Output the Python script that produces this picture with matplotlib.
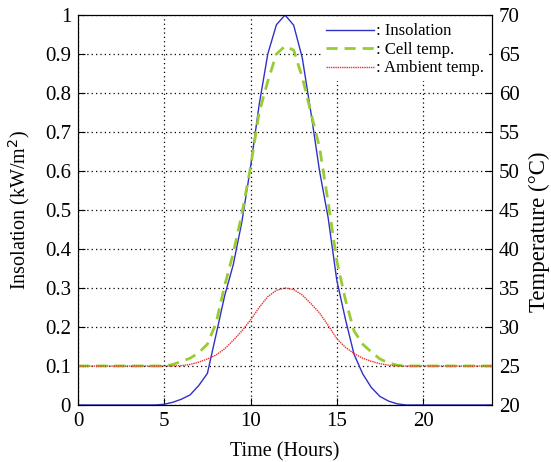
import matplotlib.pyplot as plt

plt.rcParams['font.family'] = ['Liberation Serif', 'DejaVu Serif']

hours = [0, 0.5, 1, 1.5, 2, 2.5, 3, 3.5, 4, 4.5, 5, 5.5, 6, 6.5, 7, 7.5, 8, 8.5,
         9, 9.5, 10, 10.5, 11, 11.5, 12, 12.5, 13, 13.5, 14, 14.5, 15, 15.5,
         16, 16.5, 17, 17.5, 18, 18.5, 19, 19.5, 20, 20.5, 21, 21.5, 22, 22.5,
         23, 23.5, 24]

# kW/m^2
insolation = [0, 0, 0, 0, 0, 0, 0, 0, 0, 0, 0.002, 0.007, 0.015, 0.026, 0.05,
              0.081, 0.18, 0.28, 0.36, 0.47, 0.61, 0.77, 0.9, 0.975, 1.0,
              0.974, 0.89, 0.75, 0.6, 0.48, 0.32, 0.22, 0.13, 0.08, 0.045,
              0.022, 0.01, 0.003, 0, 0, 0, 0, 0, 0, 0, 0, 0, 0, 0]

# deg C
cell_temp = [25, 25, 25, 25, 25, 25, 25, 25, 25, 25, 25, 25.2, 25.6, 26.0,
             26.7, 27.8, 30.5, 35.3, 39.5, 44.5, 50.5, 57.5, 61.5, 65.0, 66.0,
             65.5, 62.0, 57.5, 53.0, 46.0, 38.5, 33.5, 29.5, 27.8, 26.8, 25.9,
             25.4, 25.1, 25, 25, 25, 25, 25, 25, 25, 25, 25, 25, 25]

ambient_temp = [25, 25, 25, 25, 25, 25, 25, 25, 25, 25, 25, 25, 25.05, 25.2,
                25.5, 25.9, 26.4, 27.2, 28.3, 29.5, 30.9, 32.5, 33.9, 34.7,
                35.0, 34.8, 34.1, 33.0, 31.8, 30.2, 28.5, 27.4, 26.6, 26.0,
                25.6, 25.3, 25.1, 25.02, 25, 25, 25, 25, 25, 25, 25, 25, 25,
                25, 25]

fig = plt.figure(figsize=(5.51, 4.62), dpi=100)
ax = fig.add_axes([0.1416, 0.1234, 0.7514, 0.8441])
ax2 = ax.twinx()

l1, = ax.plot(hours, insolation, color='#3030c8', lw=1.0, label=': Insolation')
l2, = ax2.plot(hours, cell_temp, color='#99cc33', lw=2.0, ls=(0, (4, 2.5)),
               label=': Cell temp.')
l3, = ax2.plot(hours, ambient_temp, color='#e83030', lw=1.0, ls=(0, (1, 0.6)),
               label=': Ambient temp.')

ax.set_xlim(0, 24)
ax.set_ylim(0, 1)
ax2.set_ylim(20, 70)
ax.set_xticks([0, 5, 10, 15, 20])
ax.set_yticks([i / 10 for i in range(11)])
ax.set_yticklabels(['0', '0.1', '0.2', '0.3', '0.4', '0.5', '0.6', '0.7',
                    '0.8', '0.9', '1'])
ax2.set_yticks(range(20, 71, 5))

ax.grid(True, color='black', ls=(0, (1, 2.5)), lw=0.9)
ax.tick_params(direction='in', labelsize=15, length=5, pad=5)
ax2.tick_params(direction='in', labelsize=15, length=5, pad=5)

ax.set_xlabel('Time (Hours)', fontsize=14.5)
ax.set_ylabel('Insolation (kW/m$^2$)', fontsize=14.5)
ax2.set_ylabel('Temperature (°C)', fontsize=16.5)
ax.xaxis.set_label_coords(0.5, -0.095)
ax.yaxis.set_label_coords(-0.112, 0.5)
ax2.yaxis.set_label_coords(1.09, 0.445)

leg = ax2.legend(handles=[l1, l2, l3], loc='upper right', frameon=True,
                 fontsize=12, handlelength=2.9, handletextpad=0.1,
                 labelspacing=0.15, borderpad=0.3, borderaxespad=0.2,
                 fancybox=False, framealpha=1)
leg.get_frame().set_edgecolor('none')

fig.savefig('out.png', dpi=100)
